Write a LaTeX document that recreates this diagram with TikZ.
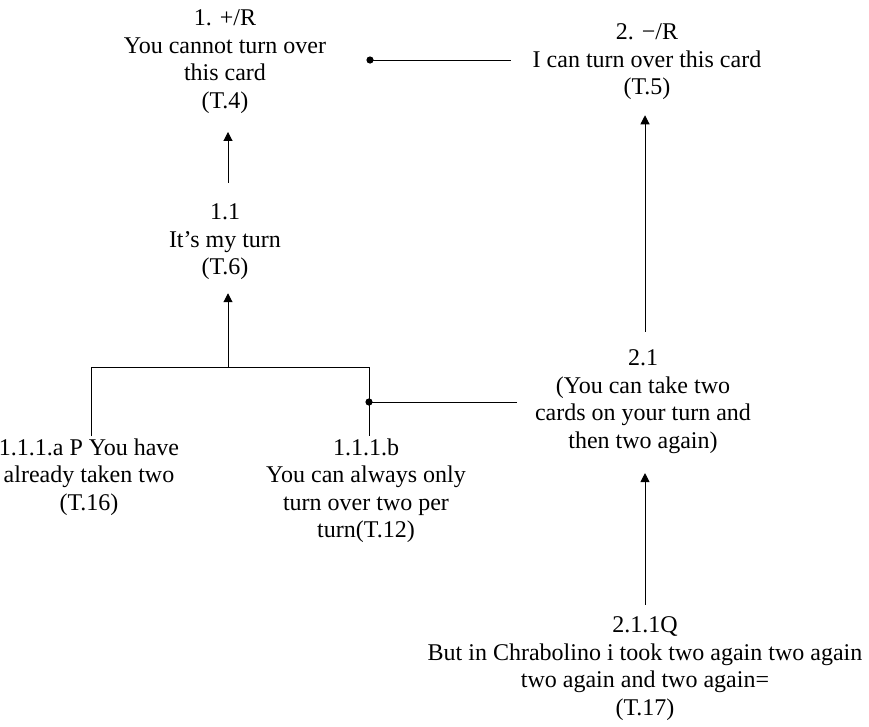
\documentclass[tikz,border=0pt]{standalone}
\usepackage{fontspec}
\setmainfont{Liberation Serif}
\usetikzlibrary{arrows.meta}
\begin{document}
\begin{tikzpicture}[x=1pt,y=-1pt,
  lbl/.style={align=center,inner sep=0pt,outer sep=0pt,font=\fontsize{24}{27.5}\selectfont},
  conn/.style={line width=1pt,draw=black},
  arr/.style={conn,-{Triangle[width=9pt,length=9pt]}},
  dotfill/.style={fill=black}]
\useasboundingbox (0,0) rectangle (869,726);
% nodes
\node[lbl] (n1) at (225,61.75) {1. +/R\\You cannot turn over\\this card\\(T.4)};
\node[lbl] (n2) at (647,61.75) {2. −/R\\I can turn over this card\\(T.5)};
\node[lbl] (n11) at (225,241.75) {1.1\\It’s my turn\\(T.6)};
\node[lbl] (n21) at (643,401.75) {2.1\\(You can take two\\cards on your turn and\\then two again)};
\node[lbl] (n111a) at (89,476.75) {1.1.1.a P You have\\already taken two\\(T.16)};
\node[lbl] (n111b) at (366,490.5) {1.1.1.b\\You can always only\\turn over two per\\turn(T.12)};
\node[lbl] (n211) at (645,668.5) {2.1.1Q\\But in Chrabolino i took two again two again\\two again and two again=\\(T.17)};
% helper coordinates
\coordinate (br) at (228,367);
\coordinate (d1) at (370,60);
\coordinate (d2) at (369,402);
% connectors
\draw[arr,shorten <=21pt,shorten >=18.5pt] ([xshift=3pt]n11.north) -- ([xshift=3pt]n1.south);
\draw[conn,shorten <=2pt,shorten >=2pt] ([xshift=2pt]n111a.north) |- ([xshift=3pt]n111b.north |- br) -- ([xshift=3pt]n111b.north);
\draw[arr,shorten >=13.5pt] (br) -- (br |- n11.south);
\draw[conn,shorten <=22pt] (n2.west |- d1) -- (d1);
\fill[dotfill] (d1) circle (3.6pt);
\draw[conn,shorten <=18pt] (n21.west |- d2) -- (d2);
\fill[dotfill] (d2) circle (3.6pt);
\draw[arr,shorten <=18pt,shorten >=15.5pt] ([xshift=2pt]n21.north) -- ([xshift=-2pt]n2.south);
\draw[arr,shorten <=12pt,shorten >=19.5pt] (n211.north) -- (n21.south -| n211.north);
\end{tikzpicture}
\end{document}
